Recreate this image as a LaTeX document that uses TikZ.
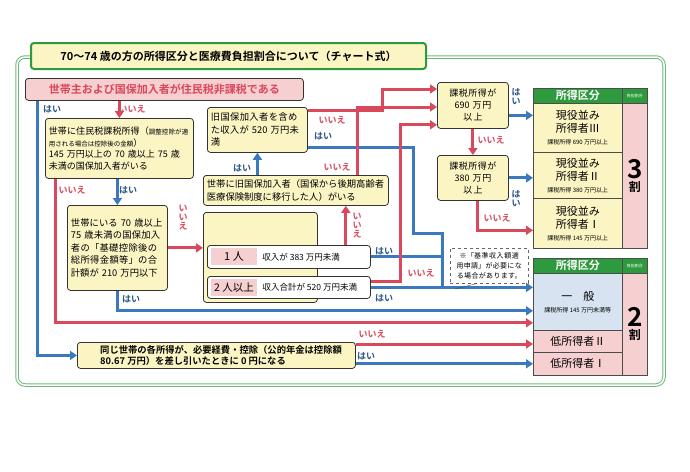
\documentclass[tikz,border=0pt]{standalone}
\usepackage{fontspec}
\setmainfont{Noto Sans CJK JP}[BoldFont={Noto Sans CJK JP Bold}]
\XeTeXlinebreaklocale "ja"
\XeTeXlinebreakskip=0pt plus 1pt
\usepackage{tikz}
\usetikzlibrary{calc,positioning,arrows.meta}
\definecolor{rd}{HTML}{D9485B}
\definecolor{bl}{HTML}{3A78C0}
\definecolor{yl}{HTML}{FBF5C4}
\definecolor{pk}{HTML}{F6CFD0}
\definecolor{gr}{HTML}{2E9A3E}
\definecolor{lb}{HTML}{D7E3F0}
\tikzset{
  box/.style={draw=black!80, fill=yl, rounded corners=3pt, line width=0.8pt, anchor=north west, align=left, inner sep=3pt, font=\fontsize{9.3}{12.5}\selectfont},
  cell/.style={draw=black!70, anchor=north west, align=center, inner sep=1pt, line width=0.6pt},
  redarr/.style={draw=rd, line width=3pt, -{Triangle[length=7pt,width=9pt]}},
  bluearr/.style={draw=bl, line width=3pt, -{Triangle[length=7pt,width=9pt]}},
  redln/.style={draw=rd, line width=3pt},
  blueln/.style={draw=bl, line width=3pt},
  yes/.style={text=bl!70!black, font=\bfseries\fontsize{9}{9}\selectfont, inner sep=1pt},
  no/.style={text=rd, font=\bfseries\fontsize{9}{9}\selectfont, inner sep=1pt, align=center},
}
\begin{document}
\begin{tikzpicture}[x=1pt, y=-1pt]
    \useasboundingbox (0,0) rectangle (690,471);
    % frame and title
    \draw[gr!70, double=white, double distance=1.5pt, line width=1pt, rounded corners=8pt] (17,57) rectangle (664,385);
    \node[box, draw=gr, line width=2pt, minimum width=395pt, minimum height=26pt, align=center, font=\bfseries\fontsize{11}{12}\selectfont] (title) at (30,42) {70～74 歳の方の所得区分と医療費負担割合について（チャート式）};
    \node[box, fill=pk, minimum width=278pt, minimum height=22pt, text=rd, font=\bfseries\fontsize{11}{12}\selectfont] (top) at (25,78) {世帯主および国保加入者が住民税非課税である};

    % question boxes
    \node[box, minimum width=148pt, minimum height=60pt, text width=141pt, inner sep=3pt, font=\fontsize{9}{11.5}\selectfont] (A) at (45,118) {世帯に住民税課税所得（{\fontsize{6.5}{9.5}\selectfont 調整控除が適用される場合は控除後の金額}）\\145 万円以上の 70 歳以上 75 歳\\未満の国保加入者がいる};
    \node[box, minimum width=100pt, minimum height=85pt, text width=93pt] (B) at (67,205) {世帯にいる 70 歳以上 75 歳未満の国保加入者の「基礎控除後の総所得金額等」の合計額が 210 万円以下};
    \node[box, minimum width=100pt, minimum height=45pt, text width=93pt] (C) at (207,107) {旧国保加入者を含めた収入が 520 万円未満};
    \node[box, minimum width=185pt, minimum height=30pt, text width=178pt] (D) at (203,175) {世帯に旧国保加入者（国保から後期高齢者医療保険制度に移行した人）がいる};
    \node[box, minimum width=114pt, minimum height=90pt, text width=107pt, align=left] (E) at (203,212) {世帯に 70 歳以上 75 歳\\未満の国保加入者が};
    \node[box, fill=white, minimum width=163pt, minimum height=23pt] (one) at (207,245) {};
    \node[fill=pk, minimum width=46pt, minimum height=17pt, font=\fontsize{11}{11}\selectfont] (oneL) at ([xshift=27pt]one.west) {1 人};
    \node[right=5pt of oneL, font=\fontsize{8.5}{9}\selectfont, inner sep=0pt] (oneT) {収入が 383 万円未満};
    \node[box, fill=white, minimum width=163pt, minimum height=22pt] (two) at (207,276) {};
    \node[fill=pk, minimum width=46pt, minimum height=16pt, font=\fontsize{10.5}{11}\selectfont] (twoL) at ([xshift=27pt]two.west) {2 人以上};
    \node[right=5pt of twoL, font=\fontsize{8.5}{9}\selectfont, inner sep=0pt] (twoT) {収入合計が 520 万円未満};
    \node[box, minimum width=71pt, minimum height=46pt, text width=64pt, align=center, font=\fontsize{9}{12}\selectfont] (F) at (437,82) {課税所得が\\690 万円\\以上};
    \node[box, minimum width=71pt, minimum height=45pt, text width=64pt, align=center, font=\fontsize{9}{12}\selectfont] (G) at (437,155) {課税所得が\\380 万円\\以上};
    \node[box, minimum width=278pt, minimum height=26pt, font=\bfseries\fontsize{9.3}{11}\selectfont] (H) at (77,342) {\quad 同じ世帯の各所得が、必要経費・控除（公的年金は控除額\\\quad 80.67 万円）を差し引いたときに 0 円になる};
    \node[draw=black!60, dashed, fill=white, anchor=north west, minimum width=78pt, minimum height=35pt, text width=74pt, align=center, inner sep=1pt, font=\fontsize{7}{10}\selectfont] (note) at (450,248) {※「基準収入額適用申請」が必要になる場合があります。};

    % table, 3 割
    \node[cell, fill=gr, text=white, minimum width=89pt, minimum height=15pt, font=\bfseries\fontsize{11}{11}\selectfont] (hd1) at (533,88) {所得区分};
    \node[cell, fill=gr, text=white, minimum width=25pt, minimum height=15pt, font=\fontsize{4}{5}\selectfont] (hs1) at (622,88) {負担割合};
    \node[cell, fill=yl, minimum width=89pt, minimum height=49pt, font=\fontsize{11}{13}\selectfont] (r3) at (533,103) {現役並み\\所得者Ⅲ\\[-1pt]{\fontsize{6}{7}\selectfont 課税所得 690 万円以上}};
    \node[cell, fill=yl, minimum width=89pt, minimum height=46pt, font=\fontsize{11}{13}\selectfont] (r2) at (533,152) {現役並み\\所得者Ⅱ\\[-1pt]{\fontsize{6}{7}\selectfont 課税所得 380 万円以上}};
    \node[cell, fill=yl, minimum width=89pt, minimum height=50pt, font=\fontsize{11}{13}\selectfont] (r1) at (533,198) {現役並み\\所得者Ⅰ\\[-1pt]{\fontsize{6}{7}\selectfont 課税所得 145 万円以上}};
    \node[cell, fill=pk, minimum width=25pt, minimum height=145pt, font=\bfseries\fontsize{12}{13}\selectfont] (w3) at (622,103) {{\fontsize{26}{28}\selectfont 3}\\割};
    % table, 2 割
    \node[cell, fill=gr, text=white, minimum width=89pt, minimum height=15pt, font=\bfseries\fontsize{11}{11}\selectfont] (hd2) at (533,258) {所得区分};
    \node[cell, fill=gr, text=white, minimum width=25pt, minimum height=15pt, font=\fontsize{4}{5}\selectfont] (hs2) at (622,258) {負担割合};
    \node[cell, fill=lb, minimum width=89pt, minimum height=57pt, font=\fontsize{11}{14}\selectfont] (gen) at (533,273) {一\quad 般\\[-2pt]{\fontsize{6}{7}\selectfont 課税所得 145 万円未満等}};
    \node[cell, fill=pk, minimum width=89pt, minimum height=22pt, font=\fontsize{11}{11}\selectfont] (low2) at (533,330) {低所得者Ⅱ};
    \node[cell, fill=pk, minimum width=89pt, minimum height=23pt, font=\fontsize{11}{11}\selectfont] (low1) at (533,352) {低所得者Ⅰ};
    \node[cell, fill=pk, minimum width=25pt, minimum height=102pt, font=\bfseries\fontsize{12}{13}\selectfont] (w2) at (622,273) {{\fontsize{26}{28}\selectfont 2}\\割};

    % connectors
    \draw[redarr] (top.south -| A.north) -- (A.north);
    \draw[bluearr] ([xshift=12pt]top.south west) |- (H.west);
    \draw[bluearr] (B.north |- A.south) -- (B.north);
    \draw[redarr] ([xshift=10pt]A.south west) |- ([yshift=-21pt]gen.west);
    \draw[bluearr] (B.south) |- ([yshift=-9pt]gen.west);
    \draw[redarr] (B.east) -- (B.east -| E.west);
    \draw[redarr] ([xshift=-25pt]one.north east) -- ([xshift=-25pt]one.north east |- D.south);
    \draw[bluearr] (D.north -| C.south) -- (C.south);
    \coordinate (cb1) at (413,233);
    \coordinate (cb2) at (442,233);
    \draw[blueln] ([yshift=5pt]C.south east) -| (cb1) -- (cb2) |- (two.east);
    \draw[blueln] (one.east) -- (one.east -| cb2);
    \draw[bluearr] (two.east) -- (two.east -| gen.west);
    \draw[redarr] ([yshift=6pt]two.east) -| ([xshift=-37pt,yshift=4pt]F.south west) -- ([yshift=4pt]F.south west);
    \draw[redarr] ([yshift=-3pt]C.north east) -| ([xshift=-55pt,yshift=-7pt]F.north west) -- ([yshift=-7pt]F.north west);
    \draw[redarr] ([xshift=-31pt]D.north east) |- ([yshift=-25pt]F.north west);
    \draw[redarr] (F.south) -- (G.north);
    \draw[bluearr] ([yshift=-10pt]F.east) -- ([yshift=-10pt]F.east -| r3.west);
    \draw[bluearr] (G.east) -- (G.east -| r2.west);
    \draw[redarr] ([xshift=5pt]G.south) |- ([yshift=-7pt]r1.west);
    \draw[redarr] ([yshift=-2pt]H.north east) -- ([yshift=-2pt]H.north east -| low2.west);
    \draw[bluearr] ([yshift=5pt]H.south east) -- ([yshift=5pt]H.south east -| low1.west);
    \coordinate (np) at (455,289);
    \draw[black!70, thin] ([xshift=-12pt]note.south) -- (np);

    % yes / no labels
    \node[yes] (y1) at (52,109) {はい};
    \node[no] (n1) at (132,109) {いいえ};
    \node[yes] (y2) at (128,190) {はい};
    \node[no] (n2) at (72,190) {いいえ};
    \node[no, font=\bfseries\fontsize{9}{9}\selectfont] (n3) at (183,218) {い\\い\\え};
    \node[yes] (y3) at (131,299) {はい};
    \node[yes] (y4) at (242,168) {はい};
    \node[no] (n4) at (332,120) {いいえ};
    \node[yes] (y5) at (323,136) {はい};
    \node[no] (n5) at (337,167) {いいえ};
    \node[no, font=\bfseries\fontsize{9}{9}\selectfont] (n6) at (357,226) {い\\い\\え};
    \node[yes] (y6) at (384,251) {はい};
    \node[yes] (y7) at (384,298) {はい};
    \node[no] (n7) at (421,273) {いいえ};
    \node[yes, font=\bfseries\fontsize{9}{9}\selectfont, align=center] (y8) at (516,97) {は\\い};
    \node[no] (n8) at (491,140) {いいえ};
    \node[yes, font=\bfseries\fontsize{9}{9}\selectfont, align=center] (y9) at (516,199) {は\\い};
    \node[no] (n9) at (497,218) {いいえ};
    \node[no] (n10) at (372,334) {いいえ};
    \node[yes] (y10) at (366,356) {はい};
\end{tikzpicture}
\end{document}
